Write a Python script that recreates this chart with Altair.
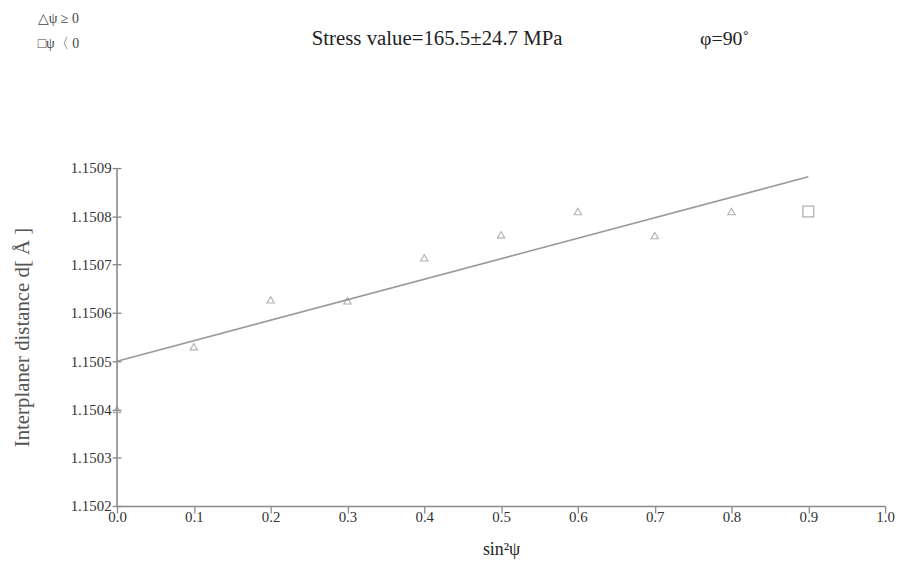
import altair as alt
import pandas as pd

# data
tri_x = [0.0, 0.1, 0.2, 0.3, 0.4, 0.5, 0.6, 0.7, 0.8]
tri_y = [1.15040, 1.15053, 1.150627, 1.150625, 1.150714, 1.150762, 1.15081, 1.15076, 1.15081]
sq_x = [0.9]
sq_y = [1.15081]
fit_x = [0.0, 0.9]
fit_y = [1.15050, 1.150882]

x_ticks = [0.0, 0.05, 0.1, 0.15, 0.2, 0.25, 0.3, 0.35, 0.4, 0.45, 0.5,
           0.55, 0.6, 0.65, 0.7, 0.75, 0.8, 0.85, 0.9, 0.95, 1.0]
y_ticks = [1.15020, 1.15025, 1.15030, 1.15035, 1.15040, 1.15045, 1.15050,
           1.15055, 1.15060, 1.15065, 1.15070, 1.15075, 1.15080, 1.15085, 1.15090]

legend_texts = ["△ψ ≥ 0", "□ψ〈 0"]
title_text = "Stress value=165.5±24.7 MPa"
phi_text = "φ=90˚"
x_title = "sin²ψ"
y_title = "Interplaner distance d[ Å ]"

W, H = 775, 341
FONT = "Liberation Serif"
AX = "#8a8a8a"

tri = pd.DataFrame({"x": tri_x, "y": tri_y})
sq = pd.DataFrame({"x": sq_x, "y": sq_y})
fit = pd.DataFrame({"x": fit_x, "y": fit_y})

xscale = alt.Scale(domain=[0, 1], nice=False, zero=False)
yscale = alt.Scale(domain=[1.1502, 1.1509], nice=False, zero=False)

xaxis = alt.Axis(values=x_ticks, title=x_title, domain=True, domainColor=AX, domainWidth=1.6,
                 grid=False, tickSize=7, tickColor=AX, tickWidth=1.3, labelFlush=False,
                 labelExpr="abs(datum.value*10 - round(datum.value*10)) < 0.01 ? format(datum.value, '.1f') : ''",
                 labelFont=FONT, labelFontSize=15, labelColor="#333", labelPadding=-3,
                 titleFont=FONT, titleFontSize=18, titleFontWeight="normal", titleColor="#222",
                 titlePadding=16)
yaxis = alt.Axis(values=y_ticks, title=y_title, domain=False, grid=False,
                 tickSize=9, offset=-4, tickColor=AX, tickWidth=1.3, labelFlush=False,
                 labelExpr="abs(datum.value*10000 - round(datum.value*10000)) < 0.01 ? format(datum.value, '.4f') : ''",
                 labelFont=FONT, labelFontSize=15, labelColor="#333", labelPadding=1,
                 titleFont=FONT, titleFontSize=21, titleFontWeight="normal", titleColor="#555",
                 titlePadding=38)

line = alt.Chart(fit).mark_line(color="#9a9a9a", strokeWidth=1.6).encode(
    x=alt.X("x:Q", scale=xscale, axis=xaxis),
    y=alt.Y("y:Q", scale=yscale, axis=yaxis),
)
tris = alt.Chart(tri).mark_point(shape="triangle-up", filled=False, color="#8f8f8f",
                                 size=55, strokeWidth=1.1).encode(
    x=alt.X("x:Q", scale=xscale), y=alt.Y("y:Q", scale=yscale))
sqs = alt.Chart(sq).mark_point(shape="square", filled=False, color="#8f8f8f",
                               size=120, strokeWidth=1.3).encode(
    x=alt.X("x:Q", scale=xscale), y=alt.Y("y:Q", scale=yscale))

one = pd.DataFrame({"a": [0]})
left_rule = alt.Chart(one).mark_rule(color=AX, strokeWidth=1.6).encode(
    x=alt.value(0), y=alt.value(0), y2=alt.value(H))

def txt(s, x, y, size, align="left", color="#222"):
    return alt.Chart(pd.DataFrame({"t": [s]})).mark_text(
        font=FONT, fontSize=size, align=align, baseline="middle", color=color
    ).encode(x=alt.value(x), y=alt.value(y), text="t:N")

texts = [
    txt(legend_texts[0], -80, -150, 14, color="#444"),
    txt(legend_texts[1], -80, -125, 14, color="#444"),
    txt(title_text, 323, -130, 21, align="center"),
    txt(phi_text, 613, -130, 20, align="center"),
]

chart = alt.layer(left_rule, line, tris, sqs, *texts).properties(
    width=W, height=H,
    background="white",
    autosize=alt.AutoSizeParams(type="none"),
    padding={"left": 110, "top": 159, "right": 13, "bottom": 53},
).configure_view(strokeWidth=0, stroke="transparent")

chart.save("out.html", embed_options={"renderer": "svg", "actions": False})
